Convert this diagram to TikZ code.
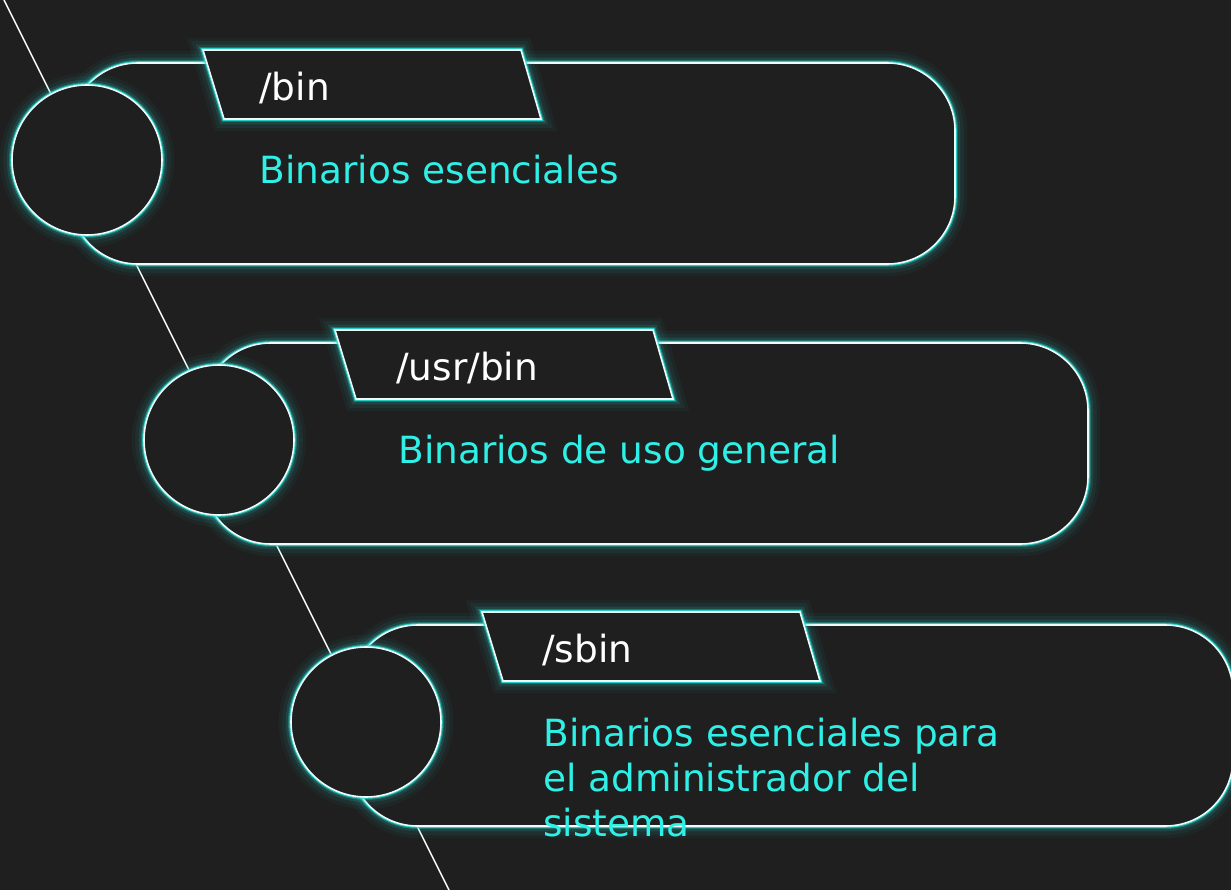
\documentclass[tikz,border=0pt]{standalone}
\usepackage{fontspec}
\setmainfont{DejaVu Sans}
\definecolor{bgdark}{RGB}{31,31,31}
\definecolor{neoncyan}{RGB}{40,222,212}
\definecolor{desccyan}{RGB}{46,240,230}
\tikzset{
  neon/.style={
    preaction={draw=neoncyan, line width=14pt, opacity=0.04},
    preaction={draw=neoncyan, line width=10pt, opacity=0.06},
    preaction={draw=neoncyan, line width=6pt, opacity=0.12},
    preaction={draw=neoncyan, line width=3.4pt, opacity=0.3},
    preaction={draw=neoncyan, line width=2pt, opacity=0.85},
    draw=white!92!neoncyan, line width=0.9pt, fill=bgdark},
  dirlabel/.style={text=white, font=\fontsize{21.3}{25.5}\selectfont, inner sep=0pt, anchor=base west},
  desclabel/.style={text=desccyan, font=\fontsize{21.3}{25.5}\selectfont, inner sep=0pt, anchor=base west, align=left},
}

\begin{document}
\begin{tikzpicture}
\useasboundingbox (0,0) rectangle (24.62,17.80);
\fill[bgdark] (0,0) rectangle (24.62,17.80);

% diagonal guide line
\coordinate (linetop) at (0.080,17.800);
\coordinate (linebot) at (8.980,0.000);
\draw[white!90, line width=0.8pt] (linetop) -- (linebot);

% /bin
\draw[neon, rounded corners=1.35cm] (1.400,12.520) rectangle (19.100,16.540);
\draw[neon] (4.060,16.800) -- (10.420,16.800) -- (10.820,15.420) -- (4.480,15.420) -- cycle;
\node[neon, circle, minimum size=3.0cm, inner sep=0pt] (dot1) at (1.740,14.600) {};
\node[dirlabel] (dir1) at (5.180,15.780) {/bin};
\node[desclabel] (desc1) at (5.190,14.120) {Binarios esenciales};

% /usr/bin
\draw[neon, rounded corners=1.35cm] (4.060,6.920) rectangle (21.760,10.940);
\draw[neon] (6.700,11.200) -- (13.060,11.200) -- (13.460,9.820) -- (7.120,9.820) -- cycle;
\node[neon, circle, minimum size=3.0cm, inner sep=0pt] (dot2) at (4.380,9.000) {};
\node[dirlabel] (dir2) at (7.920,10.180) {/usr/bin};
\node[desclabel] (desc2) at (7.960,8.520) {Binarios de uso general};

% /sbin
\draw[neon, rounded corners=1.35cm] (7.000,1.280) rectangle (24.660,5.300);
\draw[neon] (9.640,5.560) -- (16.000,5.560) -- (16.400,4.180) -- (10.060,4.180) -- cycle;
\node[neon, circle, minimum size=3.0cm, inner sep=0pt] (dot3) at (7.320,3.360) {};
\node[dirlabel] (dir3) at (10.840,4.560) {/sbin};
\node[desclabel] (desc3) at (10.860,1.080) {Binarios esenciales para\\el administrador del\\sistema};
\end{tikzpicture}
\end{document}
